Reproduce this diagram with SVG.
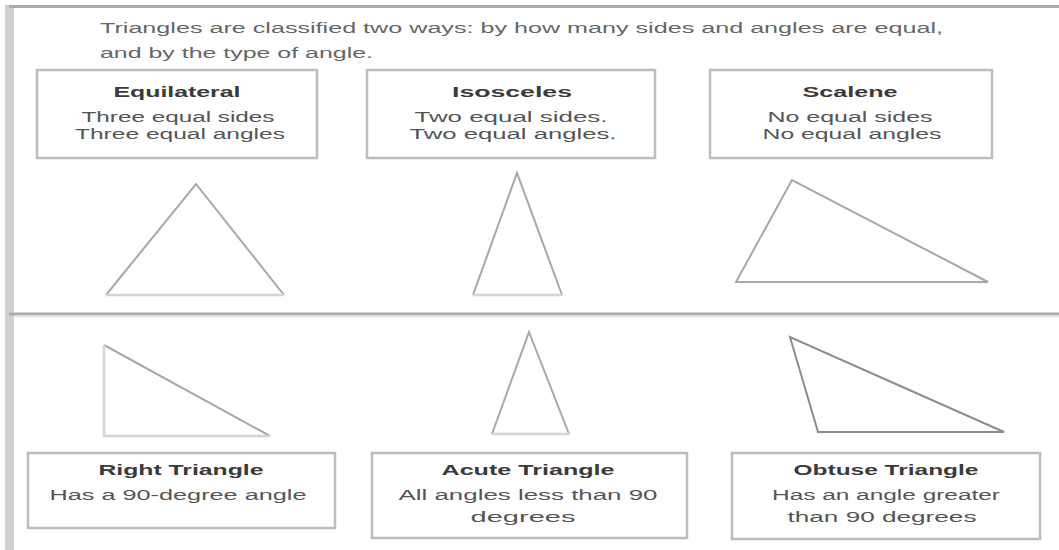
<svg xmlns="http://www.w3.org/2000/svg" width="1059" height="550" viewBox="0 0 1059 550">
<style>
.frame{fill:none;stroke:#ababab;stroke-width:3}
.lb{fill:#d0d0d0}
.box{fill:#fff;stroke:#bdbdbd;stroke-width:2.5}
.tri{fill:none;stroke:#a8a8a8;stroke-width:2;stroke-linejoin:miter}
.base{stroke:#d4d4d4;stroke-width:2.5}
.dark{stroke:#8c8c8c}
text{font-family:"Liberation Sans",Arial,sans-serif;font-size:14px;fill:#555;text-anchor:middle}
.t{font-weight:bold;fill:#3a3a3a}
.intro{text-anchor:start;fill:#666}
</style>
<rect class="lb" x="5" y="5" width="9" height="545"/>
<line class="frame" x1="9" y1="6.5" x2="1059" y2="6.5"/>
<line class="frame" x1="9" y1="314" x2="1059" y2="314"/>
<line x1="14" y1="317" x2="1059" y2="317" stroke="#ececec" stroke-width="2"/>
<g id="intro">
<text class="intro" x="100" y="33" textLength="843" lengthAdjust="spacingAndGlyphs">Triangles are classified two ways: by how many sides and angles are equal,</text>
<text class="intro" x="100" y="58" textLength="273" lengthAdjust="spacingAndGlyphs">and by the type of angle.</text>
</g>
<g id="equilateral">
<rect class="box" x="37" y="70" width="280" height="88"/>
<text class="t" x="177" y="97" textLength="127" lengthAdjust="spacingAndGlyphs">Equilateral</text>
<text x="178" y="122" textLength="193" lengthAdjust="spacingAndGlyphs">Three equal sides</text>
<text x="180" y="139" textLength="210" lengthAdjust="spacingAndGlyphs">Three equal angles</text>
<polyline class="tri" points="106,295 196,184 284,295"/>
<line class="tri base" x1="106" y1="295" x2="284" y2="295"/>
</g>
<g id="isosceles">
<rect class="box" x="367" y="70" width="288" height="88"/>
<text class="t" x="512" y="97" textLength="120" lengthAdjust="spacingAndGlyphs">Isosceles</text>
<text x="511" y="122" textLength="193" lengthAdjust="spacingAndGlyphs">Two equal sides.</text>
<text x="513" y="139" textLength="207" lengthAdjust="spacingAndGlyphs">Two equal angles.</text>
<polyline class="tri" points="473,295 517,173 562,295"/>
<line class="tri base" x1="473" y1="295" x2="562" y2="295"/>
</g>
<g id="scalene">
<rect class="box" x="710" y="70" width="282" height="88"/>
<text class="t" x="850" y="97" textLength="95" lengthAdjust="spacingAndGlyphs">Scalene</text>
<text x="850" y="122" textLength="165" lengthAdjust="spacingAndGlyphs">No equal sides</text>
<text x="852" y="139" textLength="179" lengthAdjust="spacingAndGlyphs">No equal angles</text>
<polygon class="tri" points="736,282 792,180 988,282"/>
</g>
<g id="right">
<polyline class="tri" points="104,345 270,436"/>
<polyline class="tri base" points="104,345 104,436 270,436"/>
<rect class="box" x="28" y="453" width="307" height="75"/>
<text class="t" x="181" y="475" textLength="165" lengthAdjust="spacingAndGlyphs">Right Triangle</text>
<text x="178" y="500" textLength="257" lengthAdjust="spacingAndGlyphs">Has a 90-degree angle</text>
</g>
<g id="acute">
<polyline class="tri" points="492,434 529,332 569,434"/>
<line class="tri base" x1="492" y1="434" x2="569" y2="434"/>
<rect class="box" x="372" y="453" width="315" height="85"/>
<text class="t" x="528" y="475" textLength="173" lengthAdjust="spacingAndGlyphs">Acute Triangle</text>
<text x="528" y="500" textLength="259" lengthAdjust="spacingAndGlyphs">All angles less than 90</text>
<text x="523" y="522" textLength="105" lengthAdjust="spacingAndGlyphs">degrees</text>
</g>
<g id="obtuse">
<polygon class="tri dark" points="790,337 818,432 1004,432"/>
<rect class="box" x="732" y="453" width="308" height="86"/>
<text class="t" x="886" y="475" textLength="185" lengthAdjust="spacingAndGlyphs">Obtuse Triangle</text>
<text x="886" y="500" textLength="228" lengthAdjust="spacingAndGlyphs">Has an angle greater</text>
<text x="882" y="522" textLength="189" lengthAdjust="spacingAndGlyphs">than 90 degrees</text>
</g>
<g id="connectors"></g>
</svg>
